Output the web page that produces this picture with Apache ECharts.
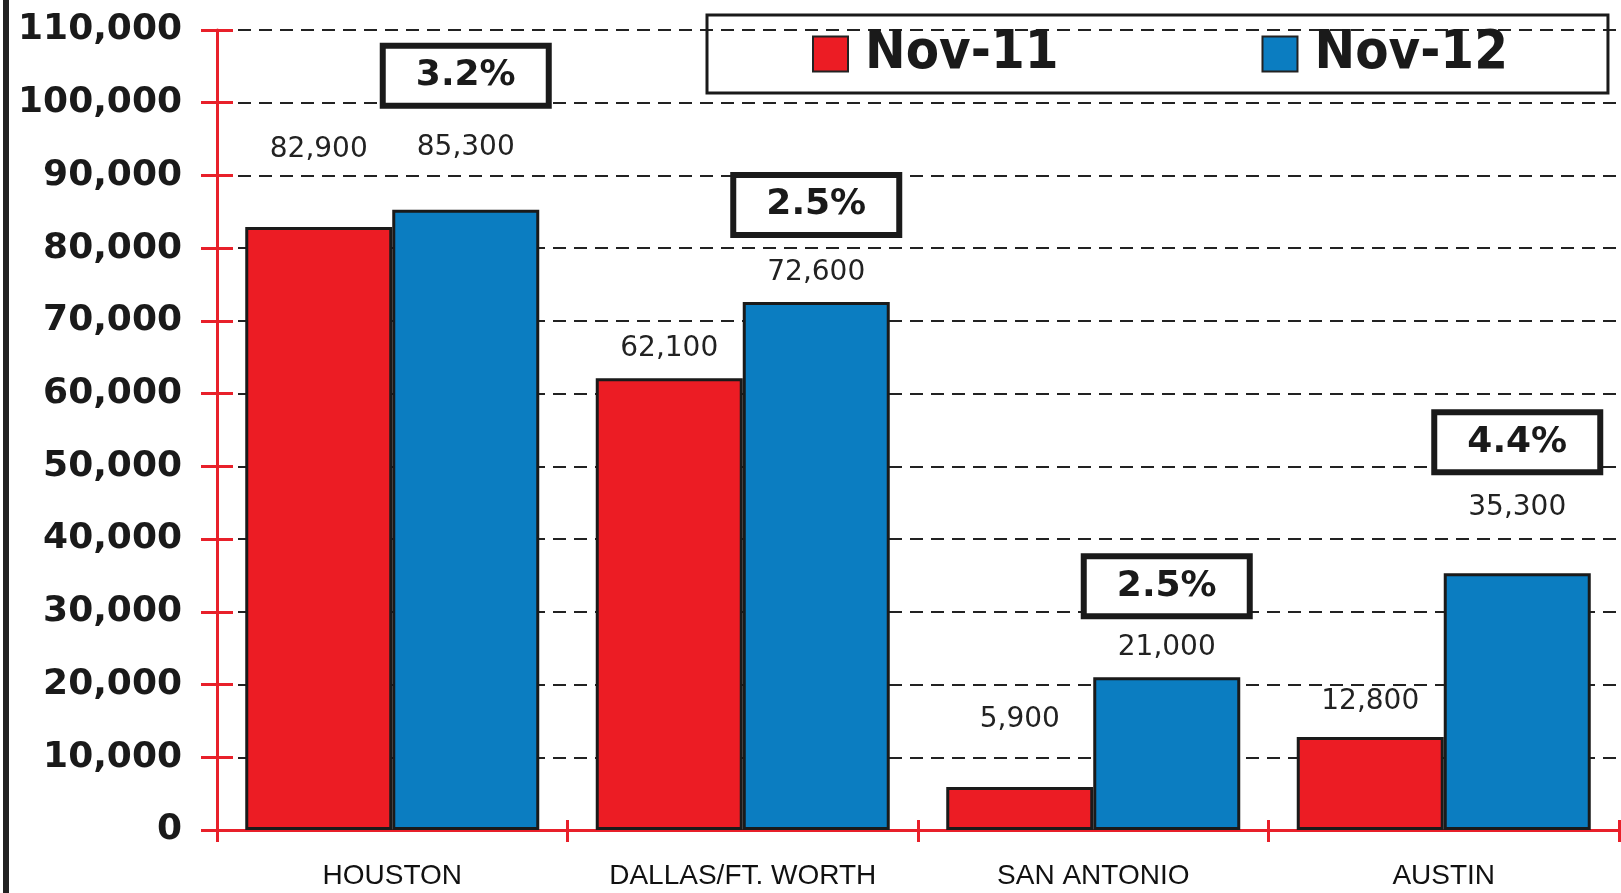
<!DOCTYPE html>
<html>
<head>
<meta charset="utf-8">
<title>Nov-11 vs Nov-12</title>
<script src="https://cdn.jsdelivr.net/npm/echarts@6/dist/echarts.min.js"></script>
<style>
    html, body { margin: 0; padding: 0; background: #fff; }
    #chart { width: 1621px; height: 893px; }
</style>
</head>
<body>
<div id="chart"></div>
<script>
// data
const cities = ['HOUSTON', 'DALLAS/FT. WORTH', 'SAN ANTONIO', 'AUSTIN'];
const nov11 = [82900, 62100, 5900, 12800];
const nov12 = [85300, 72600, 21000, 35300];
const growth = ['3.2%', '2.5%', '2.5%', '4.4%'];

// how far each value label sits above its bar (px)
const liftNov11 = [63, 16, 53, 21];
const liftNov12 = [48, 15, 16, 52];
// gap from the value label up to the centre of the % box (px)
const boxLift = [72, 68, 61, 65];

const fmt = v => Number(v).toLocaleString('en-US');
const red = '#ec1c24';
const blue = '#0b7dc1';
const axisRed = '#e8202a';

const chart = echarts.init(document.getElementById('chart'));

const valueFont = { fontFamily: 'DejaVu Sans', fontSize: 28, color: '#222', lineHeight: 28 };

// one rich style per box so each can sit at its own height
const boxRich = { val: valueFont };
boxLift.forEach((l, i) => {
    boxRich['box' + i] = {
        fontFamily: 'DejaVu Sans',
        fontWeight: 'bold',
        fontSize: 36,
        color: '#1a1a1a',
        width: 160,
        height: 54,
        lineHeight: 2 * (l - 14),
        align: 'center',
        backgroundColor: '#fff',
        borderColor: '#1a1a1a',
        borderWidth: 6
    };
});

const tickStyle = { color: axisRed, width: 3 };

const option = {
    animation: false,
    backgroundColor: '#fff',
    grid: { left: 217, right: 2, top: 30, bottom: 63 },
    legend: {
        left: 707,
        top: 15,
        padding: [12, 100, 12, 105],
        borderColor: '#1a1a1a',
        borderWidth: 3,
        icon: 'rect',
        itemWidth: 35,
        itemHeight: 35,
        itemGap: 203,
        itemStyle: { borderColor: '#222', borderWidth: 2 },
        textStyle: {
            fontFamily: 'DejaVu Sans Condensed',
            fontWeight: 'bold',
            fontSize: 54,
            color: '#1a1a1a',
            padding: [0, 0, 0, 12]
        },
        data: ['Nov-11', 'Nov-12']
    },
    xAxis: [
        {
            type: 'category',
            data: cities,
            axisLine: { lineStyle: { color: axisRed, width: 3 } },
            axisTick: { show: true, interval: 0, length: 12, lineStyle: tickStyle },
            axisLabel: {
                interval: 0,
                margin: 32,
                fontFamily: 'Liberation Sans',
                fontSize: 28,
                color: '#111'
            }
        },
        {
            // inside half of the crossing ticks
            type: 'category',
            data: cities,
            position: 'bottom',
            axisLine: { show: false },
            axisTick: { show: true, interval: 0, inside: true, length: 10, lineStyle: tickStyle },
            axisLabel: { show: false }
        }
    ],
    yAxis: [
        {
            type: 'value',
            min: 0,
            max: 110000,
            interval: 10000,
            axisLine: { show: true, lineStyle: { color: axisRed, width: 3 } },
            axisTick: { show: true, length: 16, lineStyle: tickStyle },
            axisLabel: {
                margin: 35,
                fontFamily: 'DejaVu Sans',
                fontWeight: 'bold',
                fontSize: 36,
                color: '#1a1a1a',
                formatter: fmt
            },
            splitLine: {
                lineStyle: { color: '#222', width: 2, type: [13, 8] }
            }
        },
        {
            type: 'value',
            min: 0,
            max: 110000,
            interval: 10000,
            position: 'left',
            axisLine: { show: false },
            axisTick: { show: true, inside: true, length: 16, lineStyle: tickStyle },
            axisLabel: { show: false },
            splitLine: { show: false }
        }
    ],
    series: [
        {
            name: 'Nov-11',
            type: 'bar',
            barWidth: 147,
            barGap: 0,
            itemStyle: { color: red, borderColor: '#1a1a1a', borderWidth: 3 },
            data: nov11.map((v, i) => ({
                value: v,
                label: { distance: liftNov11[i] }
            })),
            label: {
                show: true,
                position: 'top',
                ...valueFont,
                formatter: p => fmt(p.value)
            }
        },
        {
            name: 'Nov-12',
            type: 'bar',
            barWidth: 147,
            barGap: 0,
            itemStyle: { color: blue, borderColor: '#1a1a1a', borderWidth: 3 },
            data: nov12.map((v, i) => ({
                value: v,
                label: { distance: liftNov12[i] }
            })),
            label: {
                show: true,
                position: 'top',
                formatter: p => '{box' + p.dataIndex + '|' + growth[p.dataIndex] + '}\n{val|' + fmt(p.value) + '}',
                rich: boxRich
            }
        }
    ],
    graphic: [
        {
            type: 'rect',
            left: 3,
            top: 0,
            shape: { width: 6, height: 893 },
            style: { fill: '#222' }
        }
    ]
};

chart.setOption(option);
window.addEventListener('resize', () => {
    chart.resize();
});
</script>
</body>
</html>
